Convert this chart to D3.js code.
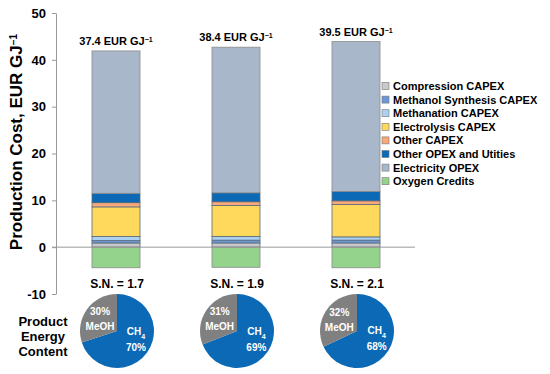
<!DOCTYPE html>
<html>
<head>
<meta charset="utf-8">
<script src="https://cdn.jsdelivr.net/npm/d3@7"></script>
<style>
  body { margin: 0; background: #fff; }
  svg { font-family: "Liberation Sans", Arial, sans-serif; font-weight: bold; }
</style>
</head>
<body>
<svg width="550" height="374"></svg>
<script>
// values
const cases = ["A", "B", "C"];
const series = ["Compression CAPEX", "Methanol Synthesis CAPEX", "Methanation CAPEX", "Electrolysis CAPEX",
  "Other CAPEX", "Other OPEX and Utities", "Electricity OPEX", "Oxygen Credits"];
const compression = [0.9, 0.9, 0.9];
const methanolSynth = [0.5, 0.6, 0.6];
const methanation = [0.9, 0.8, 0.7];
const electrolysis = [6.3, 6.6, 6.9];
const otherCapex = [0.9, 0.8, 0.8];
const otherOpex = [2.0, 1.9, 2.0];
const electricityOpex = [30.4, 31.1, 32.0];
const oxygenCredits = [-4.4, -4.3, -4.4];
const totals = ["37.4", "38.4", "39.5"];
const snValues = ["1.7", "1.9", "2.1"];
const meohShare = [30, 31, 32];
const ch4Share = [70, 69, 68];
const yTicks = [-10, 0, 10, 20, 30, 40, 50];

const colors = ["#c9c9c9", "#6a98d6", "#acd0ef", "#ffd95c", "#f8a97a", "#0b69b5", "#a9b7cb", "#93d38c"];
const values = [compression, methanolSynth, methanation, electrolysis, otherCapex, otherOpex, electricityOpex, oxygenCredits];

const svg = d3.select("svg");

const y = d3.scaleLinear([-10, 50], [294, 13]);
const x = d3.scaleBand(cases, [56, 416]).paddingInner(0.6).paddingOuter(0.3);

// axis
const yAxis = d3.axisLeft(y).tickValues(yTicks).tickSize(4).tickSizeOuter(0).tickPadding(6)
  .tickFormat(d => String(d));
const ag = svg.append("g").attr("transform", "translate(56,0)").call(yAxis);
ag.select(".domain").attr("stroke", "#999");
ag.selectAll(".tick line").attr("stroke", "#999");
ag.selectAll(".tick text").attr("fill", "#000").style("font-size", "13px").style("font-weight", "bold")
  .style("font-family", "'Liberation Sans', Arial, sans-serif");

// y title
const yt = svg.append("text")
  .attr("transform", "translate(22,142) rotate(-90)")
  .attr("text-anchor", "middle")
  .style("font-size", "17px");
yt.append("tspan").text("Production Cost, EUR GJ");
yt.append("tspan").attr("baseline-shift", "super").style("font-size", "10px").text("\u22121");

// stacked bars
cases.forEach((c, i) => {
  let pos = 0, neg = 0;
  values.forEach((arr, s) => {
    const v = arr[i];
    let y0, y1;
    if (v >= 0) { y0 = pos; y1 = pos + v; pos = y1; }
    else { y0 = neg + v; y1 = neg; neg = y0; }
    svg.append("rect")
      .attr("x", x(c))
      .attr("width", x.bandwidth())
      .attr("y", y(y1))
      .attr("height", y(y0) - y(y1))
      .attr("fill", colors[s])
      .attr("stroke", s === 6 || s === 7 ? "#8a8a8a" : "#5a6a7a")
      .attr("stroke-width", 0.8);
  });
  // total label
  const t = svg.append("text")
    .attr("x", x(c) + x.bandwidth() / 2)
    .attr("y", y(pos) - 6)
    .attr("text-anchor", "middle")
    .style("font-size", "11px");
  t.append("tspan").text(totals[i] + " EUR GJ");
  t.append("tspan").attr("baseline-shift", "super").style("font-size", "7px").text("\u22121");
});

// zero line
svg.append("line")
  .attr("x1", 52).attr("x2", 415)
  .attr("y1", y(0)).attr("y2", y(0))
  .attr("stroke", "#999").attr("stroke-width", 1);

// legend
const lg = svg.append("g").attr("transform", "translate(382,86)");
series.forEach((name, i) => {
  const row = lg.append("g").attr("transform", `translate(0,${i * 13.6})`);
  row.append("rect").attr("x", 0).attr("y", -3.5).attr("width", 7).attr("height", 7)
    .attr("fill", colors[i]).attr("stroke", "#777").attr("stroke-width", 0.6);
  row.append("text").attr("x", 11).attr("y", 4).style("font-size", "11px").text(name);
});

// S.N. labels
cases.forEach((c, i) => {
  svg.append("text")
    .attr("x", x(c) + x.bandwidth() / 2 + 1)
    .attr("y", 288)
    .attr("text-anchor", "middle")
    .style("font-size", "12px")
    .text("S.N. = " + snValues[i]);
});

// product energy content
const pe = svg.append("text").attr("text-anchor", "middle").style("font-size", "13px");
["Product", "Energy", "Content"].forEach((w, k) => {
  pe.append("tspan").attr("x", 43).attr("y", 326 + k * 15).text(w);
});

// pies
const pie = d3.pie().sort(null).value(d => d);
const arc = d3.arc().innerRadius(0).outerRadius(37);
const lab = d3.arc().innerRadius(21).outerRadius(21);
cases.forEach((c, i) => {
  const cx = x(c) + x.bandwidth() / 2 + 1;
  const g = svg.append("g").attr("transform", `translate(${cx},331)`);
  const arcs = pie([ch4Share[i], meohShare[i]]);
  g.selectAll("path").data(arcs).join("path")
    .attr("d", arc)
    .attr("fill", (d, k) => k === 0 ? "#0b69b5" : "#808080");

  const [mx, my] = lab.centroid(arcs[1]);
  const m = g.append("text").attr("text-anchor", "middle").attr("fill", "#fff").style("font-size", "10px");
  m.append("tspan").attr("x", mx).attr("y", my - 4).text(meohShare[i] + "%");
  m.append("tspan").attr("x", mx).attr("y", my + 11).text("MeOH");

  const [hx, hy] = lab.centroid(arcs[0]);
  const h = g.append("text").attr("text-anchor", "middle").attr("fill", "#fff").style("font-size", "10px");
  const l1 = h.append("tspan").attr("x", hx + 2).attr("y", hy - 8);
  l1.append("tspan").text("CH");
  l1.append("tspan").attr("baseline-shift", "sub").style("font-size", "7px").text("4");
  h.append("tspan").attr("x", hx + 2).attr("y", hy + 8).text(ch4Share[i] + "%");
});
</script>
</body>
</html>
